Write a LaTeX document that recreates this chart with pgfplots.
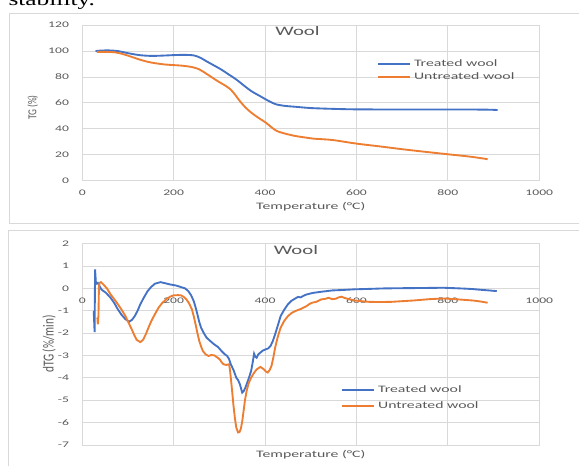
\documentclass[border=0pt]{standalone}
\usepackage{pgfplots}
\pgfplotsset{compat=1.18}
\usepackage{fontspec}
\usepackage{graphicx}
\setmainfont{Carlito}[FakeStretch=1.6]
\newfontfamily\rotfont{Carlito}
\newfontfamily\docfont{Liberation Serif}[FakeStretch=1.4]

\definecolor{xlblue}{HTML}{4472C4}
\definecolor{xlorange}{HTML}{ED7D31}
\definecolor{xlgrid}{HTML}{D9D9D9}
\definecolor{xltext}{HTML}{595959}

\pgfplotsset{
  wool/.style={
    scale only axis, width=342.75pt,
    xmin=0, xmax=1000, xtick={0,200,...,1000},
    grid=major, major grid style={xlgrid, line width=0.6pt},
    axis line style={xlgrid, line width=0.6pt},
    major tick length=0pt,
    tick label style={font=\fontsize{6.4}{7}\selectfont, text=xltext},
    /pgf/number format/assume math mode=true,
    /pgf/number format/set thousands separator={},
    yticklabel style={anchor=east, inner sep=0pt, xshift=-9.75pt},
    legend cell align=left,
    legend image code/.code={\draw[##1] (0pt,0pt) -- (24pt,0pt);},
    every axis plot/.append style={line width=1.4pt},
  },
  woollegend/.style={
    legend style={draw=none, fill=none, inner sep=0pt, row sep=#1,
      font=\fontsize{7.4}{8}\selectfont, text=xltext,
      nodes={inner sep=0pt, inner xsep=2.5pt, text height=5pt, text depth=1.5pt}},
  },
}

\begin{document}
\begin{tikzpicture}
\useasboundingbox (0pt,0pt) rectangle (434.25pt,348.75pt);

% cut text line and chart frames
\node[anchor=base west, inner sep=0pt, font=\docfont\fontsize{13.6}{15}\selectfont] at (6.2pt,344.5pt) {stability.};
\draw[xlgrid, line width=0.75pt] (6.75pt,181.3pt) rectangle (440pt,338.25pt);
\draw[xlgrid, line width=0.75pt] (6pt,-2pt) rectangle (440pt,175.5pt);

% ---- TG ----
\begin{axis}[wool, at={(61.7pt,213.2pt)}, anchor=south west, height=116.8pt,
  ymin=0, ymax=120, ytick={0,20,...,120},
  xticklabel style={anchor=center, yshift=-9pt},
  woollegend=3.2pt,
  legend style={at={(rel axis cs:0.644,0.708)}, anchor=west}]
\addplot[xlblue, smooth] coordinates {
(29,99.8)(40,100.3)(60,100.4)(80,99.8)(100,98.3)(125,96.8)(150,96.2)(175,96.4)
(200,96.8)(225,97)(245,96.5)(260,94.5)(272,92)(290,88.5)(305,85.5)(320,82)
(337,78)(355,73)(370,69)(385,66)(402,62.6)(415,60.2)(426,58.7)(445,57.6)
(466,57)(500,56)(547,55.4)(600,55)(700,54.9)(800,54.9)(880,54.8)(909,54.5)};
\addplot[xlorange, smooth] coordinates {
(32,99.3)(50,99.3)(70,99)(87,97.8)(105,95.8)(127,93.2)(145,91.5)(159,90.6)
(180,89.6)(200,89.1)(220,88.6)(240,87.6)(255,86)(264,84.2)(280,80.5)(297,76.6)
(312,73.5)(325,70.2)(335,66)(345,61.3)(357,56.5)(370,52.4)(385,48.6)(402,44.7)
(414,41.2)(426,38.3)(445,36.2)(466,34.5)(490,33.2)(507,32.4)(547,31.4)(600,28.6)
(650,26.5)(700,24.3)(750,22.3)(800,20.4)(850,18.5)(887,16.6)};
\legend{Treated wool, Untreated wool}
\node[font=\fontsize{9.7}{11}\selectfont, text=xltext] at (rel axis cs:0.471,0.963) {Wool};
\end{axis}

% ---- dTG ----
\begin{axis}[wool, at={(61.7pt,15pt)}, anchor=south west, height=151pt,
  ymin=-7, ymax=2, ytick={-7,-6,...,2},
  xticklabel style={anchor=center, yshift=108.4pt},
  woollegend=5.2pt,
  legend style={at={(rel axis cs:0.5654,0.2325)}, anchor=west}]
\addplot[xlblue] coordinates {
(25,-1.0)(27,-1.95)(28,0.85)(30,0.2)(34,0.25)(42,-0.05)(52,-0.2)(62,-0.42)(70,-0.65)
(78,-0.94)(86,-1.18)(94.6,-1.38)(102.7,-1.49)(109,-1.4)(114.8,-1.24)(121,-1.0)(127,-0.71)
(135,-0.4)(143,-0.12)(151,0.07)(159,0.21)(171,0.28)(180,0.24)(191.6,0.18)(205,0.13)
(216,0.06)(225,0.0)(232,-0.12)(238,-0.3)(244,-0.57)(248,-0.85)(252,-1.16)(256,-1.5)
(260,-1.76)(266,-2.0)(272,-2.2)(280,-2.35)(288.6,-2.5)(297,-2.62)(304.8,-2.8)(311,-2.93)
(317,-3.02)(321,-3.15)(325,-3.39)(331,-3.65)(337,-3.99)(341,-4.1)(345,-4.29)(350,-4.66)
(353,-4.6)(357,-4.43)(363,-4.1)(369.5,-3.69)(373,-3.3)(376,-2.92)(378.5,-3.05)(381.6,-3.1)
(385,-2.95)(389.7,-2.87)(395,-2.78)(401.8,-2.72)(407,-2.68)(412,-2.57)(417,-2.35)(422,-2.05)
(428,-1.65)(434,-1.24)(442,-0.95)(450,-0.71)(458,-0.55)(466,-0.45)(472,-0.38)(478,-0.4)
(484,-0.33)(491,-0.27)(505,-0.2)(523,-0.15)(547,-0.09)(570,-0.07)(596,-0.04)(630,-0.02)
(660,0.0)(700,0.01)(750,0.02)(790,0.03)(815,0.01)(838,-0.01)(855,-0.03)(871,-0.06)
(890,-0.09)(907,-0.12)};
\addplot[xlorange] coordinates {
(33,-1.3)(34,-1.6)(35.5,-1.2)(36.5,0.1)(38,0.25)(41,0.28)(46,0.18)(54,0.0)(62,-0.27)
(70,-0.48)(78,-0.71)(86,-0.95)(94.6,-1.24)(100,-1.48)(106.7,-1.76)(113,-2.05)(119,-2.3)
(127,-2.4)(133,-2.3)(139,-2.05)(145,-1.75)(151,-1.46)(159,-1.15)(167,-0.86)(175,-0.65)
(183.5,-0.49)(192,-0.37)(200,-0.31)(210,-0.3)(216,-0.31)(222,-0.38)(228,-0.49)(234,-0.68)
(240,-0.94)(244,-1.25)(248,-1.61)(252,-2.0)(256,-2.35)(260,-2.6)(264,-2.8)(270,-2.95)
(276.5,-3.02)(282,-2.98)(288.6,-2.99)(295,-3.08)(300.7,-3.17)(305,-3.3)(308.8,-3.39)
(315,-3.42)(321,-3.39)(323,-3.6)(325,-3.99)(328,-4.6)(330.6,-5.18)(334,-5.8)(337,-6.22)
(341,-6.44)(344,-6.42)(346.8,-6.29)(350,-5.95)(353,-5.48)(356,-5.0)(359.7,-4.58)(364,-4.25)
(369.5,-3.99)(375,-3.8)(381.6,-3.62)(389.7,-3.51)(397.7,-3.62)(401,-3.7)(405.8,-3.76)
(410,-3.65)(414,-3.47)(418,-3.1)(422,-2.65)(428,-2.15)(434,-1.76)(442,-1.45)(450,-1.24)
(458,-1.1)(466.5,-1.01)(478,-0.92)(490.7,-0.79)(497,-0.7)(503,-0.64)(512,-0.6)(523,-0.49)
(531,-0.47)(539,-0.42)(547,-0.48)(555,-0.46)(561,-0.4)(567.5,-0.37)(573,-0.42)(580,-0.46)
(588,-0.5)(596,-0.54)(610,-0.57)(628,-0.6)(650,-0.61)(676.6,-0.6)(700,-0.57)(725,-0.54)
(760,-0.48)(790,-0.45)(822,-0.49)(854.5,-0.54)(870,-0.58)(887,-0.64)};
\legend{Treated wool, Untreated wool}
\node[font=\fontsize{9.7}{11}\selectfont, text=xltext] at (rel axis cs:0.4676,0.970) {Wool};
\end{axis}

% axis titles
\node[font=\fontsize{7.4}{8}\selectfont, text=xltext] at (233.1pt,193.7pt) {Temperature (°C)};
\node[font=\fontsize{7.4}{8}\selectfont, text=xltext] at (233.1pt,8pt) {Temperature (°C)};
\node[rotate=90, font=\rotfont\fontsize{7}{8}\selectfont, text=xltext] at (24.5pt,268.1pt) {\scalebox{1}[1.3]{TG (\%)}};
\node[rotate=90, font=\rotfont\fontsize{8.5}{9}\selectfont, text=xltext] at (36.75pt,90.75pt) {\scalebox{1}[1.35]{dTG (\%/min)}};
\end{tikzpicture}
\end{document}
